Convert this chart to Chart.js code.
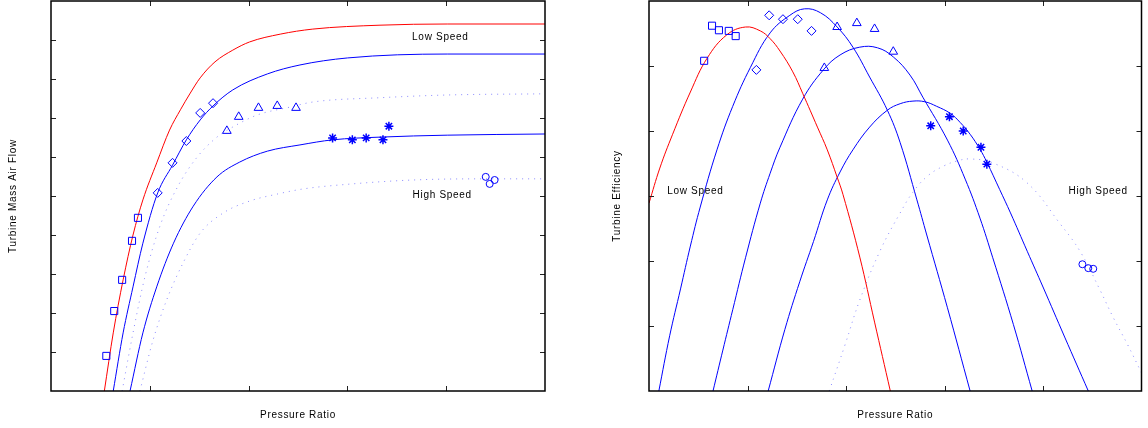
<!DOCTYPE html>
<html>
<head>
<meta charset="utf-8">
<script src="https://cdn.jsdelivr.net/npm/chart.js@4.4.1/dist/chart.umd.min.js"></script>
<style>
  html, body { margin: 0; padding: 0; background: #fff; }
  #wrap { display: flex; width: 1148px; height: 428px; }
</style>
</head>
<body>
<div id="wrap">
  <canvas id="flowChart" width="574" height="428"></canvas>
  <canvas id="effChart" width="574" height="428"></canvas>
</div>
<script>
// turbine map, pressure ratio on x (no tick labels on the original)
// fitted speed lines, low speed (1) to high speed (5)
const flowFit1 = [[0.54,0],[0.63,1.49],[0.73,2.85],[0.83,4.0],[0.93,4.9],[1.07,5.85],[1.2,6.69],[1.31,7.21],[1.41,7.64],[1.51,8.03],[1.66,8.44],[1.84,8.74],[2.01,8.95],[2.32,9.15],[2.65,9.28],[3.33,9.38],[4.01,9.41],[5,9.41]];
const flowFit2 = [[0.63,0],[0.73,1.49],[0.83,2.67],[0.93,3.79],[1.08,5.08],[1.23,5.79],[1.37,6.44],[1.51,6.95],[1.64,7.31],[1.84,7.72],[2.19,8.13],[2.52,8.36],[3.0,8.54],[4.01,8.64],[5,8.64]];
const flowFit3 = [[0.72,0],[0.83,1.49],[0.95,2.92],[1.1,4.21],[1.28,5.23],[1.48,6.0],[1.68,6.51],[1.84,6.77],[2.09,7.08],[2.42,7.28],[2.65,7.41],[3.33,7.52],[4.01,7.59],[5,7.62]];
const flowFit4 = [[0.8,0],[0.93,1.49],[1.07,2.67],[1.24,3.79],[1.44,4.74],[1.68,5.49],[1.91,5.87],[2.19,6.15],[2.52,6.31],[2.85,6.44],[3.33,6.51],[4.01,6.56],[5,6.59]];
const flowFit5 = [[0.9,0],[1.03,1.28],[1.17,2.33],[1.34,3.3],[1.51,4.05],[1.74,4.56],[2.01,4.87],[2.29,5.05],[2.55,5.18],[3.0,5.3],[3.66,5.41],[4.34,5.44],[5,5.44]];

// measured points
const flowPts1 = [[0.56,0.9],[0.64,2.05],[0.72,2.85],[0.82,3.85],[0.88,4.44]];
const flowPts2 = [[1.08,5.08],[1.23,5.85],[1.37,6.41],[1.51,7.13],[1.64,7.38]];
const flowPts3 = [[1.78,6.67],[1.9,7.03],[2.1,7.26],[2.29,7.31],[2.48,7.26]];
const flowPts4 = [[2.85,6.49],[3.05,6.44],[3.19,6.49],[3.36,6.44],[3.42,6.79]];
const flowPts5 = [[4.4,5.49],[4.44,5.31],[4.49,5.41]];

const effFit1 = [[0,2.89],[0.11,3.43],[0.24,3.95],[0.42,4.6],[0.59,5.12],[0.79,5.48],[0.98,5.6],[1.13,5.54],[1.23,5.42],[1.33,5.23],[1.46,4.91],[1.56,4.58],[1.71,4.06],[1.81,3.71],[1.91,3.29],[1.97,3.02],[2.14,2.06],[2.29,1.06],[2.45,0]];
const effFit2 = [[0.1,0],[0.21,0.85],[0.32,1.57],[0.42,2.23],[0.52,2.83],[0.69,3.71],[0.85,4.38],[1.03,4.98],[1.23,5.51],[1.43,5.78],[1.58,5.88],[1.74,5.82],[1.91,5.6],[2.07,5.29],[2.24,4.83],[2.42,4.32],[2.55,3.82],[2.72,2.94],[2.82,2.4],[3.03,1.28],[3.26,0]];
const effFit3 = [[0.65,0],[0.75,0.63],[0.85,1.25],[0.98,2.05],[1.13,2.89],[1.23,3.35],[1.33,3.75],[1.56,4.49],[1.77,4.94],[1.94,5.17],[2.14,5.29],[2.32,5.28],[2.48,5.14],[2.65,4.86],[2.78,4.52],[3.03,3.86],[3.21,3.26],[3.36,2.66],[3.49,2.05],[3.7,1.02],[3.89,0]];
const effFit4 = [[1.21,0],[1.38,0.95],[1.53,1.68],[1.67,2.3],[1.81,2.94],[1.94,3.37],[2.07,3.71],[2.24,4.06],[2.42,4.32],[2.55,4.42],[2.68,4.46],[2.8,4.45],[2.92,4.38],[3.06,4.27],[3.16,4.13],[3.26,3.95],[3.36,3.72],[3.43,3.52],[3.56,3.1],[3.67,2.74],[3.84,2.15],[4.0,1.6],[4.22,0.83],[4.46,0]];
const effFit5 = [[1.83,0],[1.99,0.71],[2.14,1.4],[2.35,2.17],[2.55,2.74],[2.68,3.06],[2.83,3.31],[2.99,3.46],[3.13,3.54],[3.26,3.57],[3.49,3.51],[3.84,3.2],[4.17,2.58],[4.38,2.14],[4.58,1.55],[4.71,1.14],[4.86,0.71],[5.0,0.28]];

const effPts1 = [[0.56,5.08],[0.64,5.62],[0.71,5.55],[0.81,5.54],[0.88,5.46]];
const effPts2 = [[1.09,4.94],[1.22,5.78],[1.36,5.72],[1.51,5.72],[1.65,5.54]];
const effPts3 = [[1.78,4.97],[1.91,5.6],[2.11,5.66],[2.29,5.57],[2.48,5.22]];
const effPts4 = [[2.86,4.08],[3.05,4.22],[3.19,4.0],[3.37,3.75],[3.43,3.49]];
const effPts5 = [[4.4,1.95],[4.46,1.89],[4.51,1.88]];

const RED = 'rgb(255,0,0)';
const BLUE = 'rgb(0,0,255)';
const DOTTED = 'rgba(60,60,255,0.6)';
const FONT = { family: "'Liberation Sans', Arial, sans-serif", size: 10 };

const toXY = pts => pts.map(([x, y]) => ({ x, y }));

// monotone for the flat flow lines, plain bezier for the efficiency arcs
function fitLine(pts, color, dotted, arc) {
    return {
        data: toXY(pts),
        showLine: true,
        borderColor: color,
        borderWidth: 1,
        borderDash: dotted ? [1, 5] : [],
        pointRadius: 0,
        cubicInterpolationMode: arc ? 'default' : 'monotone',
        tension: arc ? 0.4 : 0,
    };
}

function markers(pts, style, radius, width) {
    return {
        data: toXY(pts),
        showLine: false,
        pointStyle: style,
        pointRadius: radius,
        pointBorderColor: BLUE,
        pointBackgroundColor: 'rgba(0,0,0,0)',
        pointBorderWidth: width || 1,
    };
}

// box round the plot with little inward ticks on all four sides
const frameTicks = {
    id: 'frameTicks',
    beforeDraw(chart) {
        chart.ctx.letterSpacing = '0.7px';
    },
    afterDatasetsDraw(chart) {
        const { ctx, chartArea: a, scales: { x, y } } = chart;
        ctx.save();
        ctx.strokeStyle = '#222';
        ctx.lineWidth = 1;
        ctx.beginPath();
        x.ticks.forEach(t => {
            if (t.value <= x.min || t.value >= x.max) return;
            const px = Math.round(x.getPixelForValue(t.value)) + 0.5;
            ctx.moveTo(px, a.bottom); ctx.lineTo(px, a.bottom - 5);
            ctx.moveTo(px, a.top); ctx.lineTo(px, a.top + 5);
        });
        y.ticks.forEach(t => {
            if (t.value <= y.min || t.value >= y.max) return;
            const py = Math.round(y.getPixelForValue(t.value)) + 0.5;
            ctx.moveTo(a.left, py); ctx.lineTo(a.left + 5, py);
            ctx.moveTo(a.right, py); ctx.lineTo(a.right - 5, py);
        });
        ctx.stroke();
        ctx.strokeStyle = '#000';
        ctx.lineWidth = 1.5;
        ctx.strokeRect(a.left, a.top, a.right - a.left, a.bottom - a.top);
        ctx.restore();
    }
};

const speedLabels = {
    id: 'speedLabels',
    afterDatasetsDraw(chart, args, opts) {
        const { ctx, scales: { x, y } } = chart;
        ctx.save();
        ctx.font = `${FONT.size}px ${FONT.family}`;
        ctx.fillStyle = '#000';
        ctx.textAlign = 'center';
        ctx.textBaseline = 'middle';
        (opts.items || []).forEach(it => {
            ctx.fillText(it.text, x.getPixelForValue(it.x), y.getPixelForValue(it.y));
        });
        ctx.restore();
    }
};

function makeChart(id, datasets, cfg) {
    return new Chart(document.getElementById(id), {
        type: 'scatter',
        data: { datasets },
        plugins: [frameTicks, speedLabels],
        options: {
            responsive: false,
            animation: false,
            layout: { autoPadding: false, padding: { top: 1, right: cfg.padRight, bottom: 0, left: 0 } },
            plugins: {
                legend: { display: false },
                tooltip: { enabled: false },
                speedLabels: { items: cfg.labels },
            },
            scales: {
                x: {
                    type: 'linear', min: 0, max: 5,
                    ticks: { display: false, stepSize: 1 },
                    grid: { display: false },
                    border: { display: false },
                    title: { display: true, text: 'Pressure Ratio', color: '#000', font: FONT, padding: { top: 0, bottom: 7 } },
                    afterFit(scale) { scale.height = 37; },
                },
                y: {
                    type: 'linear', min: 0, max: cfg.yMax,
                    ticks: { display: false, stepSize: 1 },
                    grid: { display: false },
                    border: { display: false },
                    title: { display: true, text: cfg.yTitle, color: '#000', font: FONT, padding: { top: cfg.yTitlePad, bottom: 0 } },
                    afterFit(scale) { scale.width = cfg.yWidth; },
                },
            },
        },
    });
}

makeChart('flowChart', [
    markers(flowPts1, 'rect', 5),
    markers(flowPts2, 'rectRot', 4.5),
    markers(flowPts3, 'triangle', 5),
    markers(flowPts4, 'star', 4.5, 1.5),
    markers(flowPts5, 'circle', 3.5),
    fitLine(flowFit1, RED, false),
    fitLine(flowFit2, BLUE, false),
    fitLine(flowFit3, DOTTED, true),
    fitLine(flowFit4, BLUE, false),
    fitLine(flowFit5, DOTTED, true),
], {
    yMax: 10, yTitle: 'Turbine Mass Air Flow', yTitlePad: 7, yWidth: 51, padRight: 29,
    labels: [{ text: 'Low Speed', x: 3.94, y: 9.08 }, { text: 'High Speed', x: 3.96, y: 5.03 }],
});

makeChart('effChart', [
    markers(effPts1, 'rect', 5),
    markers(effPts2, 'rectRot', 4.5),
    markers(effPts3, 'triangle', 5),
    markers(effPts4, 'star', 4.5, 1.5),
    markers(effPts5, 'circle', 3.5),
    fitLine(effFit1, RED, false, true),
    fitLine(effFit2, BLUE, false, true),
    fitLine(effFit3, BLUE, false, true),
    fitLine(effFit4, BLUE, false, true),
    fitLine(effFit5, DOTTED, true, true),
], {
    yMax: 6, yTitle: 'Turbine Efficiency', yTitlePad: 37, yWidth: 75, padRight: 6.5,
    labels: [{ text: 'Low Speed', x: 0.47, y: 3.08 }, { text: 'High Speed', x: 4.56, y: 3.08 }],
});
</script>
</body>
</html>
